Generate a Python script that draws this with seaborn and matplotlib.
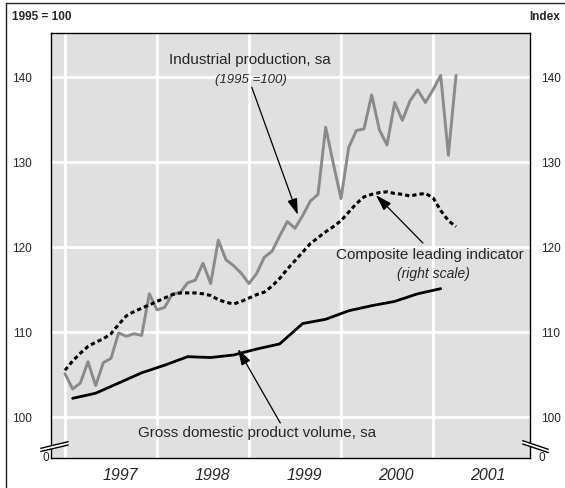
import numpy as np
import pandas as pd
import matplotlib
matplotlib.use("Agg")
import matplotlib.pyplot as plt
from matplotlib.lines import Line2D
from matplotlib.patches import Polygon
import seaborn as sns

# Industrial production, sa (1995 = 100), monthly from January 1997
industrial_production = [
    105.1, 103.3, 104.0, 106.5, 103.7, 106.4, 106.9, 109.9, 109.5, 109.8, 109.6, 114.5,
    112.6, 112.9, 114.5, 114.6, 115.8, 116.1, 118.1, 115.7, 120.8, 118.5, 117.8, 116.9,
    115.7, 116.9, 118.8, 119.5, 121.3, 123.0, 122.2, 123.7, 125.4, 126.2, 134.1, 129.8,
    125.7, 131.7, 133.7, 133.9, 137.9, 133.8, 132.0, 137.0, 134.9, 137.2, 138.5, 137.0,
    138.5, 140.2, 130.8, 140.2,
]

# Composite leading indicator (right scale), monthly from January 1997
leading_indicator = [
    105.5, 106.6, 107.5, 108.3, 108.8, 109.2, 109.8, 110.9, 111.9, 112.4, 112.8, 113.2,
    113.6, 114.0, 114.4, 114.6, 114.6, 114.6, 114.5, 114.3, 113.8, 113.5, 113.3, 113.6,
    114.0, 114.4, 114.7, 115.4, 116.3, 117.4, 118.4, 119.4, 120.4, 121.1, 121.8, 122.4,
    123.1, 124.1, 125.1, 125.9, 126.2, 126.4, 126.5, 126.3, 126.2, 126.0, 126.2, 126.3,
    125.8, 124.3, 123.1, 122.4,
]

# Gross domestic product volume, sa, quarterly from 1997 Q1
gdp_volume = [
    102.2, 102.8, 104.0, 105.2, 106.1, 107.1, 107.0, 107.3,
    108.0, 108.6, 111.0, 111.5, 112.5, 113.1, 113.6, 114.5, 115.1,
]

year_labels = ["1997", "1998", "1999", "2000", "2001"]
y_ticks = [100, 110, 120, 130, 140]

# Time positions in fractional years
months = pd.date_range("1997-01-01", periods=len(industrial_production), freq="MS")
month_pos = np.asarray(months.year + (months.month - 1) / 12.0)
quarters = pd.period_range("1997Q1", periods=len(gdp_volume), freq="Q")
quarter_pos = np.asarray(quarters.year + (quarters.quarter - 1) / 4.0 + 1 / 12.0)

monthly = pd.DataFrame({
    "t": month_pos,
    "ip": industrial_production,
    "cli": leading_indicator,
})
quarterly = pd.DataFrame({"t": quarter_pos, "gdp": gdp_volume})

sns.set_style("darkgrid", {
    "axes.facecolor": "#e0e0e0",
    "grid.color": "white",
    "axes.edgecolor": "black",
    "axes.linewidth": 1.0,
})
plt.rcParams["font.family"] = ["Liberation Sans", "DejaVu Sans"]
plt.rcParams["grid.linewidth"] = 2.0

W, H = 565, 488
fig = plt.figure(figsize=(W / 100, H / 100), dpi=100)
ax = fig.add_axes([51 / W, 1 - 458 / H, (530 - 51) / W, (458 - 33) / H])

sns.lineplot(data=monthly, x="t", y="ip", ax=ax, color="#8a8a8a", linewidth=2.1)
sns.lineplot(data=monthly, x="t", y="cli", ax=ax, color="black", linewidth=2.2,
             linestyle=(0, (1.4, 1.0)), dash_capstyle="butt")
sns.lineplot(data=quarterly, x="t", y="gdp", ax=ax, color="black", linewidth=2.0)

ax.set_xlim(1996.848, 2002.054)
ax.set_ylim(95.18, 145.18)
ax.set_xlabel("")
ax.set_ylabel("")

# Year gridlines at year starts, labels centred on each year
ax.set_xticks(range(1997, 2002))
ax.set_xticklabels([])
ax.set_xticks([int(y) + 0.6 for y in year_labels], minor=True)
ax.set_xticklabels(year_labels, minor=True, fontsize=11.5, style="italic")
ax.tick_params(axis="x", which="both", length=0, pad=7)
ax.grid(which="minor", visible=False)

ax.set_yticks(y_ticks)
ax.set_yticklabels([str(v) for v in y_ticks], fontsize=8.5)
ax.tick_params(axis="y", length=0, pad=14)

# Right-hand scale
ax2 = ax.twinx()
ax2.set_ylim(ax.get_ylim())
ax2.set_yticks(y_ticks)
ax2.set_yticklabels([str(v) for v in y_ticks], fontsize=8.5)
ax2.tick_params(axis="y", length=0, pad=8)
ax2.grid(False)
for s in ax2.spines.values():
    s.set_visible(False)

for s in ax.spines.values():
    s.set_visible(True)
    s.set_color("black")
    s.set_linewidth(1.0)

# Axis breaks at both bottom corners
def axis_break(x0, x1, y_up0, y_up1, y_lo0, y_lo1):
    poly = Polygon([[x0, y_up0], [x1, y_up1], [x1, y_lo1], [x0, y_lo0]],
                   closed=True, transform=ax.transAxes, facecolor="white",
                   edgecolor="none", clip_on=False, zorder=5)
    ax.add_patch(poly)
    for ya, yb in ((y_up0, y_up1), (y_lo0, y_lo1)):
        ax.add_line(Line2D([x0, x1], [ya, yb], transform=ax.transAxes,
                           color="black", lw=1.0, clip_on=False, zorder=6))

axis_break(-0.0215, 0.036, 0.0228, 0.0384, 0.0153, 0.0306)
axis_break(0.9848, 1.0382, 0.0407, 0.0205, 0.0329, 0.0129)

ax.text(-0.003, 0.0, "0", transform=ax.transAxes, ha="right", va="center", fontsize=8.5)
ax.text(1.017, 0.0, "0", transform=ax.transAxes, ha="left", va="center", fontsize=8.5)

# Series annotations
arrow = dict(arrowstyle="-|>,head_length=0.7,head_width=0.22", color="black",
             lw=0.9, shrinkA=0, shrinkB=0, mutation_scale=14)
ax.text(1999.01, 142.0, "Industrial production, sa", ha="center", va="center", fontsize=11)
ax.text(1999.02, 139.65, "(1995 =100)", ha="center", va="center", fontsize=9.5, style="italic")
ax.annotate("", xy=(1999.53, 123.8), xytext=(1999.03, 138.8), arrowprops=arrow)

ax.text(2000.97, 119.06, "Composite leading indicator", ha="center", va="center", fontsize=11)
ax.text(2001.0, 116.8, "(right scale)", ha="center", va="center", fontsize=10, style="italic")
ax.annotate("", xy=(2000.38, 126.1), xytext=(2000.89, 120.47), arrowprops=arrow)

ax.text(1999.09, 98.1, "Gross domestic product volume, sa", ha="center", va="center", fontsize=11)
ax.annotate("", xy=(1998.88, 108.0), xytext=(1999.34, 99.3), arrowprops=arrow)

# Unit captions
fig.text(12 / W, 1 - 17 / H, "1995 = 100", ha="left", va="center", fontsize=8.5, fontweight="bold")
fig.text(560 / W, 1 - 17 / H, "Index", ha="right", va="center", fontsize=8.5, fontweight="bold")

# Outer frame
fig.add_artist(Line2D([6 / W, 6 / W], [0, 1 - 3 / H], transform=fig.transFigure, color="#222222", lw=1.0))
fig.add_artist(Line2D([6 / W, 1], [1 - 3 / H, 1 - 3 / H], transform=fig.transFigure, color="#222222", lw=1.0))

fig.savefig("out.png", dpi=100, facecolor="white")
